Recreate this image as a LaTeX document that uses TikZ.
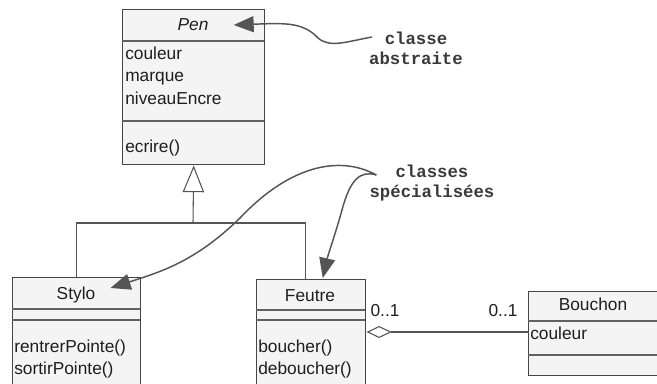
\documentclass[tikz,border=0pt]{standalone}
\usepackage{fontspec}
\setmainfont{Liberation Sans}
\newfontfamily\notefont{Liberation Mono}
\usetikzlibrary{arrows.meta}

\definecolor{boxfill}{HTML}{F4F4F4}
\definecolor{boxline}{HTML}{454545}
\definecolor{linkgray}{HTML}{555555}
\definecolor{inkgray}{HTML}{1E1E1E}
\definecolor{notegray}{HTML}{3A3A3A}

\tikzset{
  classbox/.style={draw=boxline, fill=boxfill, line width=1.1pt, inner sep=0pt, anchor=north west},
  divider/.style={draw=boxline!85, line width=0.8pt},
  classname/.style={font=\fontsize{13}{15}\selectfont, text=inkgray, text height=9.5pt, text depth=2.5pt, inner sep=0pt},
  member/.style={classname, anchor=west},
  note/.style={font=\notefont\bfseries\fontsize{13}{15}\selectfont, text=notegray, align=center, inner sep=0pt},
  pointer/.style={linkgray, line width=1.1pt, -{Triangle[length=15pt,width=12pt]}},
  generalise/.style={linkgray, line width=0.8pt},
}

\begin{document}
\begin{tikzpicture}[x=0.75pt, y=-0.75pt]
  \useasboundingbox (0,0) rectangle (657,383);

  % classes
  \node[classbox, minimum width=106.5pt, minimum height=116.25pt] (penbox) at (122,9) {};
  \draw[divider] (penbox.north west) ++(0,32) -- ++(142,0);
  \draw[divider] (penbox.north west) ++(0,112) -- ++(142,0);
  \node[classbox, minimum width=96pt, minimum height=90pt] (stylobox) at (12,277) {};
  \draw[divider] (stylobox.north west) ++(0,32) -- ++(128,0);
  \draw[divider] (stylobox.north west) ++(0,43) -- ++(128,0);
  \node[classbox, minimum width=81.75pt, minimum height=90pt] (feutrebox) at (256,279) {};
  \draw[divider] (feutrebox.north west) ++(0,31) -- ++(109,0);
  \draw[divider] (feutrebox.north west) ++(0,41) -- ++(109,0);
  \node[classbox, minimum width=99pt, minimum height=63pt] (bouchonbox) at (528,291) {};
  \draw[divider] (bouchonbox.north west) ++(0,30) -- ++(132,0);
  \draw[divider] (bouchonbox.north west) ++(0,64) -- ++(132,0);

  \node[classname] (pen) at (193,26) {\itshape Pen};
  \node[member] (penA) at (125,55) {couleur};
  \node[member] (penB) at (125,77) {marque};
  \node[member] (penC) at (125,100) {niveauEncre};
  \node[member] (penD) at (125,148) {ecrire()};

  \node[classname] (stylo) at (76,295) {Stylo};
  \node[member] (styloA) at (14,348) {rentrerPointe()};
  \node[member] (styloB) at (14,370) {sortirPointe()};

  \node[classname] (feutre) at (310,297) {Feutre};
  \node[member] (feutreA) at (258,348) {boucher()};
  \node[member] (feutreB) at (258,370) {deboucher()};

  \node[classname] (bouchon) at (593,306) {Bouchon};
  \node[member] (bouchonA) at (530,335) {couleur};

  % heritage
  \coordinate (fork) at (193,223);
  \draw[generalise] (stylobox.north) |- (fork) -| ([xshift=-4pt]feutrebox.north);
  \draw[generalise, -{Triangle[open, fill=white, length=20pt, width=16pt]}] (fork) -- (penbox.south);

  % agregation
  \coordinate (aggrow) at (0,332);
  \draw[generalise, {Diamond[open, fill=white, length=19pt, width=9pt]}-] (feutrebox.east |- aggrow) -- (bouchonbox.west |- aggrow);
  \node[classname] (multF) at (385,312) {0..1};
  \node[classname] (multB) at (503,312) {0..1};

  % notes
  \node[note] (abstract) at (416,48) {classe\\abstraite};
  \node[note] (special) at (432,183) {classes\\spécialisées};

  \draw[pointer] ([shift={(3,-11)}]abstract.west)
    .. controls (345,42) and (330,48) .. (318,38)
    .. controls (303,22) and (285,23) .. ([shift={(25,-1)}]pen.east);
  \draw[pointer] ([shift={(7,-8)}]special.west)
    .. controls (340,155) and (290,165) .. (240,218)
    .. controls (195,262) and (160,272) .. ([shift={(15,-7)}]stylo.east);
  \draw[pointer] ([shift={(7,-8)}]special.west)
    .. controls (360,170) and (350,180) .. (342,210)
    .. controls (335,235) and (328,255) .. ([shift={(11.5,-1)}]feutrebox.north);
\end{tikzpicture}
\end{document}
